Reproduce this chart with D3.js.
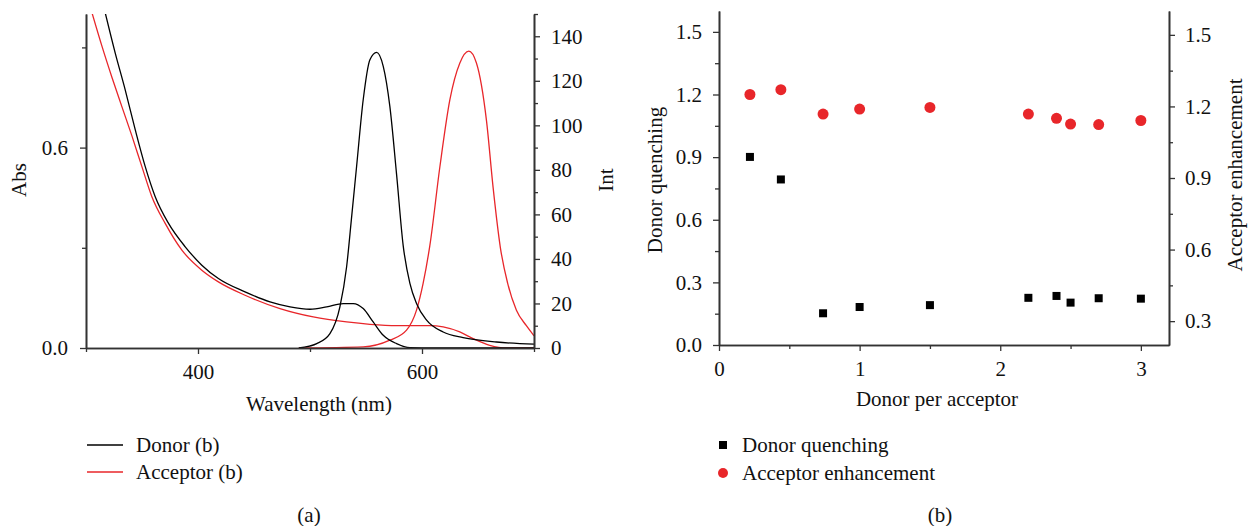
<!DOCTYPE html>
<html>
<head>
<meta charset="utf-8">
<script src="https://cdn.jsdelivr.net/npm/d3@7"></script>
<style>
  body { margin: 0; background: #fff; }
  svg text { font-family: "Liberation Serif", "DejaVu Serif", serif; fill: #111; }
</style>
</head>
<body>
<div id="chart"></div>
<script>
/* Two-panel figure: (a) absorbance / emission spectra, (b) quenching vs enhancement */

// ---- data ----
// panel (a): [wavelength nm, value]
const donorAbs = [[317.2,1.003],[326.1,0.883],[335,0.773],[344,0.653],[352.9,0.543],[361.8,0.453],[373.7,0.373],[388.6,0.303],[403.4,0.248],[418.2,0.208],[442,0.168],[464.3,0.138],[482.2,0.123],[500,0.116],[514.9,0.123],[529.7,0.133],[538.6,0.133],[547.5,0.118],[556.4,0.078],[565.4,0.038],[577.3,0.013],[589.2,0.001],[610,0],[700,0]];
const acceptorAbs = [[305.4,1.003],[314.3,0.903],[323.2,0.81],[332.1,0.722],[341,0.635],[349.9,0.543],[358.8,0.453],[370.7,0.373],[385.6,0.293],[403.4,0.233],[418.2,0.198],[442,0.158],[473.2,0.118],[502.9,0.093],[532.7,0.078],[553.5,0.071],[577.3,0.067],[607,0.067],[618.9,0.063],[633.7,0.048],[645.6,0.028],[660.5,0.008],[675.4,0],[700,0]];
const donorInt = [[490,0],[506,2.0],[517.8,6.5],[526.7,18.5],[532.7,36.5],[537,58],[541.6,81.5],[547.5,111.5],[553.5,129.5],[559.5,132.8],[565.4,126.5],[571.3,108.5],[577.3,78],[583.2,46],[589.2,29],[595.1,20],[604.1,12.5],[618.9,7.2],[636.7,4.7],[666.5,2.7],[700,1.7]];
const acceptorInt = [[490,0],[547.5,0.5],[571.3,3.5],[586.2,8],[595.1,17],[601,29],[607,46],[616,81.5],[624.9,111.5],[633.8,128],[641.8,133.3],[648.6,128],[657.6,102],[663.5,72],[670,45],[676.5,29],[684.3,17],[693.2,10],[700,5.5]];

// panel (b)
const donorPerAcceptor = [0.22, 0.44, 0.74, 1.0, 1.5, 2.2, 2.4, 2.5, 2.7, 3.0];
const donorQuenching = [0.901, 0.793, 0.152, 0.182, 0.191, 0.226, 0.235, 0.203, 0.224, 0.222];
const acceptorEnhancement = [1.250, 1.270, 1.168, 1.189, 1.196, 1.168, 1.150, 1.126, 1.124, 1.141];

// tick values
const absMajor = [0, 0.6], absMinor = [0.3, 0.9];
const wlMajor = [400, 600], wlMinor = [300, 500, 700];
const intMajor = [0, 20, 40, 60, 80, 100, 120, 140], intMinor = [10, 30, 50, 70, 90, 110, 130, 150];
const dqMajor = [0, 0.3, 0.6, 0.9, 1.2, 1.5], dqMinor = [0.15, 0.45, 0.75, 1.05, 1.35];
const dpaMajor = [0, 1, 2, 3], dpaMinor = [0.5, 1.5, 2.5];
const aeMajor = [0.3, 0.6, 0.9, 1.2, 1.5], aeMinor = [0.45, 0.75, 1.05, 1.35];

const width = 1252, height = 526;
const RED = "#e8262a", AXIS = "#333";
const fs = 21;

const svg = d3.select("#chart").append("svg")
    .attr("width", width).attr("height", height)
    .attr("viewBox", [0, 0, width, height]);

// helper: draws major (labelled) + minor ticks for one axis
function drawAxis(g, axisFn, scale, major, minor, fmt, pad) {
    g.append("g").call(axisFn(scale).tickValues(major).tickFormat(fmt).tickSize(6).tickPadding(pad).tickSizeOuter(0));
    g.append("g").call(axisFn(scale).tickValues(minor).tickFormat("").tickSize(4).tickSizeOuter(0));
    g.selectAll("path.domain").attr("stroke", AXIS).attr("stroke-width", 1.6);
    g.selectAll("line").attr("stroke", AXIS).attr("stroke-width", 1.3);
    g.selectAll("text").attr("font-size", fs).attr("font-family", "Liberation Serif").attr("fill", "#111");
}

// ================= panel (a) =================
const a = { left: 86, right: 534, top: 14, bottom: 348 };
const x1 = d3.scaleLinear().domain([300, 700]).range([a.left, a.right]);
const yAbs = d3.scaleLinear().domain([0, 1.0]).range([a.bottom, a.top]);
const yInt = d3.scaleLinear().domain([0, 150]).range([a.bottom, a.top]);

svg.append("clipPath").attr("id", "clipA")
  .append("rect").attr("x", a.left).attr("y", a.top).attr("width", a.right - a.left).attr("height", a.bottom - a.top);

const lineAbs = d3.line().x(d => x1(d[0])).y(d => yAbs(d[1])).curve(d3.curveMonotoneX);
const lineInt = d3.line().x(d => x1(d[0])).y(d => yInt(d[1])).curve(d3.curveMonotoneX);

const curves = svg.append("g").attr("clip-path", "url(#clipA)").attr("fill", "none").attr("stroke-width", 1.3);
curves.append("path").datum(acceptorAbs).attr("d", lineAbs).attr("stroke", RED);
curves.append("path").datum(acceptorInt).attr("d", lineInt).attr("stroke", RED);
curves.append("path").datum(donorAbs).attr("d", lineAbs).attr("stroke", "#000");
curves.append("path").datum(donorInt).attr("d", lineInt).attr("stroke", "#000");

drawAxis(svg.append("g").attr("transform", `translate(0,${a.bottom})`), d3.axisBottom, x1, wlMajor, wlMinor, d3.format("d"), 10);
drawAxis(svg.append("g").attr("transform", `translate(${a.left},0)`), d3.axisLeft, yAbs, absMajor, absMinor, d3.format(".1f"), 12);
drawAxis(svg.append("g").attr("transform", `translate(${a.right},0)`), d3.axisRight, yInt, intMajor, intMinor, d3.format("d"), 11);

svg.append("text").attr("x", 319).attr("y", 411)
    .attr("text-anchor", "middle").attr("font-size", fs).text("Wavelength (nm)");
svg.append("text").attr("transform", "translate(26,180) rotate(-90)")
    .attr("text-anchor", "middle").attr("font-size", fs).text("Abs");
svg.append("text").attr("transform", "translate(613,180) rotate(-90)")
    .attr("text-anchor", "middle").attr("font-size", fs).text("Int");

// legend (a)
const legA = [["Donor (b)", "#000"], ["Acceptor (b)", RED]];
legA.forEach((d, i) => {
    const y = 445 + i * 27;
    svg.append("line").attr("x1", 87).attr("x2", 123).attr("y1", y).attr("y2", y)
        .attr("stroke", d[1]).attr("stroke-width", 1.3);
    svg.append("text").attr("x", 136).attr("y", y + 7).attr("font-size", fs).text(d[0]);
});
svg.append("text").attr("x", 309).attr("y", 522).attr("text-anchor", "middle").attr("font-size", fs).text("(a)");

// ================= panel (b) =================
const b = { left: 719, right: 1169, top: 11, bottom: 345 };
const x2 = d3.scaleLinear().domain([0, 3.2]).range([b.left, b.right]);
const yDq = d3.scaleLinear().domain([0, 1.6]).range([b.bottom, b.top]);
const yAe = d3.scaleLinear().domain([0.2, 1.6]).range([b.bottom, b.top]);

drawAxis(svg.append("g").attr("transform", `translate(0,${b.bottom})`), d3.axisBottom, x2, dpaMajor, dpaMinor, d3.format("d"), 10);
drawAxis(svg.append("g").attr("transform", `translate(${b.left},0)`), d3.axisLeft, yDq, dqMajor, dqMinor, d3.format(".1f"), 11);
drawAxis(svg.append("g").attr("transform", `translate(${b.right},0)`), d3.axisRight, yAe, aeMajor, aeMinor, d3.format(".1f"), 10);

const pts = donorPerAcceptor.map((v, i) => ({ x: v, dq: donorQuenching[i], ae: acceptorEnhancement[i] }));

svg.append("g").selectAll("circle").data(pts).join("circle")
    .attr("cx", d => x2(d.x)).attr("cy", d => yAe(d.ae)).attr("r", 5.5).attr("fill", RED);
svg.append("g").selectAll("rect").data(pts).join("rect")
    .attr("x", d => x2(d.x) - 4).attr("y", d => yDq(d.dq) - 4)
    .attr("width", 8).attr("height", 8).attr("fill", "#000");

svg.append("text").attr("x", 937).attr("y", 406)
    .attr("text-anchor", "middle").attr("font-size", fs).text("Donor per acceptor");
svg.append("text").attr("transform", "translate(662,180) rotate(-90)")
    .attr("text-anchor", "middle").attr("font-size", fs).text("Donor quenching");
svg.append("text").attr("transform", "translate(1242,175) rotate(-90)")
    .attr("text-anchor", "middle").attr("font-size", fs).text("Acceptor enhancement");

// legend (b)
svg.append("rect").attr("x", 719).attr("y", 441).attr("width", 8).attr("height", 8).attr("fill", "#000");
svg.append("circle").attr("cx", 723).attr("cy", 473).attr("r", 5).attr("fill", RED);
svg.append("text").attr("x", 742).attr("y", 452).attr("font-size", fs).text("Donor quenching");
svg.append("text").attr("x", 742).attr("y", 480).attr("font-size", fs).text("Acceptor enhancement");
svg.append("text").attr("x", 940).attr("y", 522).attr("text-anchor", "middle").attr("font-size", fs).text("(b)");
</script>
</body>
</html>
